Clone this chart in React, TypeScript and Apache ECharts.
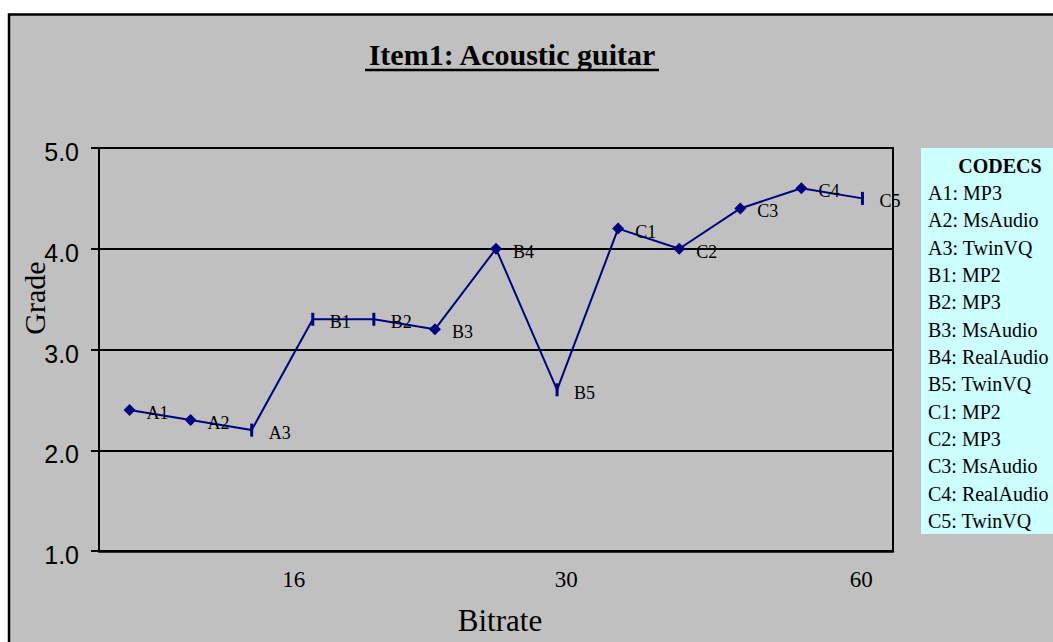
import React, { useEffect, useRef } from "react";
import * as echarts from "echarts";

const categories = ["A1", "A2", "A3", "B1", "B2", "B3", "B4", "B5", "C1", "C2", "C3", "C4", "C5"];
const grades = [2.4, 2.3, 2.2, 3.3, 3.3, 3.2, 4.0, 2.6, 4.2, 4.0, 4.4, 4.6, 4.5];
const markerKinds = ["diamond", "diamond", "bar", "bar", "bar", "diamond", "diamond", "bar", "diamond", "diamond", "diamond", "diamond", "bar"];
const bitrateLabels = ["16", "30", "60"];
const bitrateLabelAt = [3.19, 7.65, 12.48];
const codecCodes = ["A1", "A2", "A3", "B1", "B2", "B3", "B4", "B5", "C1", "C2", "C3", "C4", "C5"];
const codecNames = ["MP3", "MsAudio", "TwinVQ", "MP2", "MP3", "MsAudio", "RealAudio", "TwinVQ", "MP2", "MP3", "MsAudio", "RealAudio", "TwinVQ"];
const yTicks = { min: 1, max: 5, interval: 1 };

const NAVY = "#000080";
const SERIF = "'Liberation Serif', 'Times New Roman', serif";
const SANS = "'Liberation Sans', Arial, sans-serif";

export default function App() {
  const ref = useRef<HTMLDivElement>(null);
  useEffect(() => {
    document.body.style.margin = "0";
    const chart = echarts.init(ref.current!, null, { renderer: "svg" });
    const data = grades.map((g, i) => ({
      name: categories[i],
      value: [i + 0.5, g],
      symbol: markerKinds[i] === "diamond" ? "diamond" : "rect",
      symbolSize: markerKinds[i] === "diamond" ? 12 : [3, 13],
    }));
    const legendItems: any[] = codecCodes.map((c, i) => ({
      type: "text",
      left: 928,
      top: 194 + i * 27.33 - 11,
      style: { text: `${c}: ${codecNames[i]}`, font: `20px ${SERIF}`, fill: "#000" },
    }));
    chart.setOption({
      animation: false,
      backgroundColor: "#ffffff",
      grid: {
        left: 99,
        top: 148,
        width: 794,
        height: 403,
        show: true,
        borderColor: "#000",
        borderWidth: 2,
        backgroundColor: "transparent",
      },
      xAxis: {
        type: "value",
        min: 0,
        max: categories.length,
        axisLine: { show: true, lineStyle: { color: "#000", width: 2.5 } },
        axisTick: { show: false },
        splitLine: { show: false },
        axisLabel: {
          customValues: bitrateLabelAt,
          margin: 17,
          fontFamily: SERIF,
          fontSize: 23,
          color: "#000",
          formatter: (v: number) => {
            let best = 0;
            bitrateLabelAt.forEach((p, i) => {
              if (Math.abs(p - v) < Math.abs(bitrateLabelAt[best] - v)) best = i;
            });
            return bitrateLabels[best];
          },
        },
        name: "Bitrate",
        nameLocation: "middle",
        nameGap: 54,
        nameTextStyle: { fontFamily: SERIF, fontSize: 31, color: "#000", padding: [0, 0, 0, 8] },
      },
      yAxis: {
        type: "value",
        min: yTicks.min,
        max: yTicks.max,
        interval: yTicks.interval,
        axisLine: { show: true, lineStyle: { color: "#000", width: 2 } },
        axisTick: { show: true, length: 8, lineStyle: { color: "#000", width: 2 } },
        splitLine: { show: true, lineStyle: { color: "#000", width: 2 } },
        axisLabel: {
          margin: 20,
          color: "#000",
          formatter: (v: number) => `{t|${v.toFixed(1)}}`,
          rich: {
            t: { fontFamily: SANS, fontSize: 25, color: "#000", padding: [8, 0, 0, 0] },
          },
        },
      },
      graphic: [
        {
          type: "rect",
          silent: true,
          z: -10,
          shape: { x: 9, y: 14.5, width: 1200, height: 800 },
          style: { fill: "#C0C0C0", stroke: "#000", lineWidth: 2.5 },
        },
        {
          type: "text",
          x: 512,
          y: 54,
          style: {
            text: "Item1: Acoustic guitar",
            font: `bold 30px ${SERIF}`,
            fill: "#000",
            textAlign: "center",
            textVerticalAlign: "middle",
          },
        },
        {
          type: "line",
          shape: { x1: 365, y1: 70, x2: 659, y2: 70 },
          style: { stroke: "#000", lineWidth: 2.5 },
        },
        {
          type: "text",
          x: 34,
          y: 298,
          rotation: Math.PI / 2,
          style: {
            text: "Grade",
            font: `30px ${SERIF}`,
            fill: "#000",
            textAlign: "center",
            textVerticalAlign: "middle",
          },
        },
        {
          type: "rect",
          shape: { x: 921, y: 148, width: 140, height: 386 },
          style: { fill: "#CCFFFF" },
        },
        {
          type: "text",
          x: 1000,
          y: 166,
          style: {
            text: "CODECS",
            font: `bold 20px ${SERIF}`,
            fill: "#000",
            textAlign: "center",
            textVerticalAlign: "middle",
          },
        },
        ...legendItems,
      ],
      series: [
        {
          type: "line",
          data,
          lineStyle: { color: NAVY, width: 2 },
          itemStyle: { color: NAVY },
          label: {
            show: true,
            position: "inside",
            align: "left",
            verticalAlign: "middle",
            offset: [17, 3],
            fontFamily: SERIF,
            fontSize: 18,
            color: "#000",
            formatter: (p: any) => p.name,
          },
        },
      ],
    });
    return () => chart.dispose();
  }, []);
  return <div ref={ref} style={{ width: 1053, height: 642 }} />;
}
